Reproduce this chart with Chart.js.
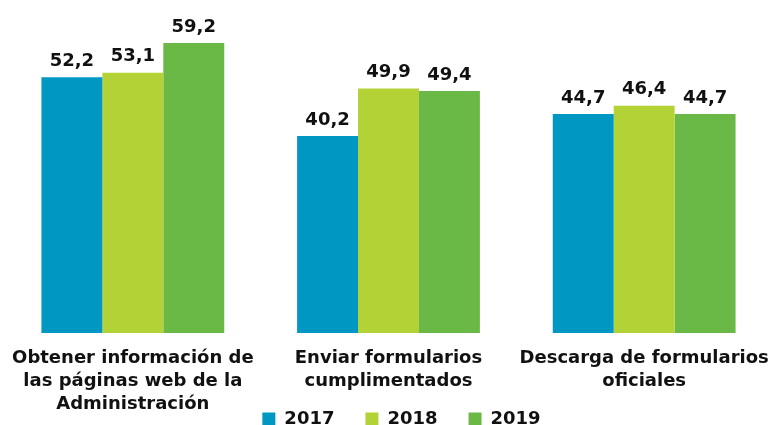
<!DOCTYPE html>
<html>
<head>
<meta charset="utf-8">
<script src="https://cdn.jsdelivr.net/npm/chart.js@4.4.1/dist/chart.umd.min.js"></script>
<style>
  html, body { margin: 0; padding: 0; background: #fff; }
  #wrap { width: 772px; height: 425px; }
</style>
</head>
<body>
<div id="wrap"><canvas id="chart"></canvas></div>
<script>
const categories = [
  ['Obtener información de', 'las páginas web de la', 'Administración'],
  ['Enviar formularios', 'cumplimentados'],
  ['Descarga de formularios', 'oficiales']
];
const years = ['2017', '2018', '2019'];
const values2017 = [52.2, 40.2, 44.7];
const values2018 = [53.1, 49.9, 46.4];
const values2019 = [59.2, 49.4, 44.7];
const colors = ['rgb(0,152,195)', 'rgb(179,210,53)', 'rgb(106,185,71)'];

const FONT = '"DejaVu Sans", Verdana, sans-serif';

// value labels above each bar, with decimal comma
const barValues = {
  id: 'barValues',
  afterDatasetsDraw(chart) {
    const ctx = chart.ctx;
    ctx.save();
    ctx.font = 'bold 18px ' + FONT;
    ctx.fillStyle = '#111';
    ctx.textAlign = 'center';
    ctx.textBaseline = 'bottom';
    chart.data.datasets.forEach((ds, i) => {
      chart.getDatasetMeta(i).data.forEach((bar, j) => {
        const txt = ds.data[j].toFixed(1).replace('.', ',');
        ctx.fillText(txt, bar.x, bar.y - 7);
      });
    });
    ctx.restore();
  }
};

// the reference tucks the legend up beside the last label line,
// a little right of centre
const legendShift = {
  id: 'legendShift',
  afterLayout(chart) {
    const lg = chart.legend;
    lg.top = chart.chartArea.bottom + 46;
    lg.bottom = lg.top + 60;
    lg.left += 13;
    lg.right += 13;
  }
};

new Chart(document.getElementById('chart'), {
  type: 'bar',
  data: {
    labels: categories,
    datasets: [
      { label: years[0], data: values2017, backgroundColor: colors[0] },
      { label: years[1], data: values2018, backgroundColor: colors[1] },
      { label: years[2], data: values2019, backgroundColor: colors[2] }
    ]
  },
  options: {
    responsive: true,
    maintainAspectRatio: false,
    animation: false,
    barPercentage: 1,
    categoryPercentage: 0.715,
    layout: { padding: { top: 39, left: 5, right: 0, bottom: -6 } },
    scales: {
      x: {
        grid: { display: false, drawTicks: false },
        border: { display: false },
        ticks: {
          color: '#111',
          font: { family: FONT, size: 18, weight: 'bold', lineHeight: '23px' },
          padding: 14,
          maxRotation: 0,
          autoSkip: false
        },
        afterFit(scale) {
          scale.paddingLeft = 0;
          scale.paddingRight = 0;
        }
      },
      y: {
        display: false,
        min: 0,
        max: 60
      }
    },
    plugins: {
      legend: {
        position: 'bottom',
        maxHeight: 1,
        labels: {
          color: '#111',
          font: { family: FONT, size: 18, weight: 'bold' },
          boxWidth: 13,
          boxHeight: 13,
          padding: 31
        }
      },
      tooltip: { enabled: false }
    }
  },
  plugins: [barValues, legendShift]
});
</script>
</body>
</html>
